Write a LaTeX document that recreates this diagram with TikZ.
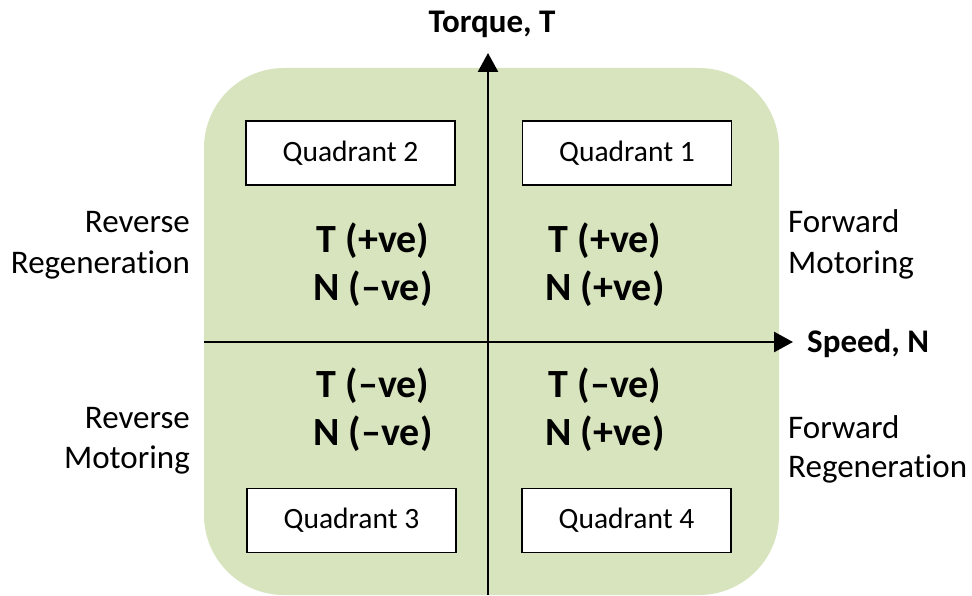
\documentclass[tikz,border=0pt]{standalone}
\usepackage{fontspec}
\setmainfont[Ligatures={NoCommon}]{Carlito}
\usetikzlibrary{arrows.meta}
\definecolor{qgreen}{HTML}{D7E4BD}
\begin{document}
\begin{tikzpicture}[x=1pt,y=-1pt,
 axis/.style={line width=2.7pt,-{Triangle[length=19pt,width=20pt]}},
 qbox/.style={draw=black,line width=1.6pt,fill=white,minimum width=209pt,minimum height=64pt,inner sep=0pt,font=\fontsize{29.5}{34}\selectfont},
 sign/.style={font=\fontsize{40}{47}\selectfont\bfseries,inner sep=0pt,anchor=base},
 sidel/.style={font=\fontsize{33}{40}\selectfont,inner sep=0pt,anchor=base east},
 sider/.style={font=\fontsize{33}{40}\selectfont,inner sep=0pt,anchor=base west},
 axlabel/.style={font=\fontsize{33}{40}\selectfont\bfseries,inner sep=0pt}]
\useasboundingbox (0,0) rectangle (972,596);
\fill[qgreen,rounded corners=80pt] (204,68) rectangle (779,595);
% axes
\coordinate (ybot) at (488,595);
\coordinate (ytop) at (488,53);
\coordinate (xleft) at (204,342);
\coordinate (xright) at (793,342);
\draw[axis] (ybot) -- (ytop);
\draw[axis] (xleft) -- (xright);
\node[axlabel,anchor=base] (tlab) at (492,33) {Torque, T};
\node[axlabel,anchor=base west] (nlab) at (807,352) {Speed, N};
% quadrant boxes
\node[qbox] (q2) at (350.5,153) {Quadrant 2};
\node[qbox] (q1) at (627,153) {Quadrant 1};
\node[qbox] (q3) at (351.5,520.5) {Quadrant 3};
\node[qbox] (q4) at (626.5,520.5) {Quadrant 4};
% signs
\node[sign] (q2t) at (373,252) {T (+ve)};
\node[sign] (q2n) at (373,300) {N (–ve)};
\node[sign] (q1t) at (605,252) {T (+ve)};
\node[sign] (q1n) at (605,300) {N (+ve)};
\node[sign] (q3t) at (373,397) {T (–ve)};
\node[sign] (q3n) at (373,445) {N (–ve)};
\node[sign] (q4t) at (605,397) {T (–ve)};
\node[sign] (q4n) at (605,445) {N (+ve)};
% side labels
\node[sidel] (rr1) at (190,233) {Reverse};
\node[sidel] (rr2) at (190,273) {Regeneration};
\node[sidel] (rm1) at (190,428) {Reverse};
\node[sidel] (rm2) at (190,468) {Motoring};
\node[sider] (fm1) at (788,233) {Forward};
\node[sider] (fm2) at (788,273) {Motoring};
\node[sider] (fr1) at (788,438) {Forward};
\node[sider] (fr2) at (788,477) {Regeneration};
\end{tikzpicture}
\end{document}
